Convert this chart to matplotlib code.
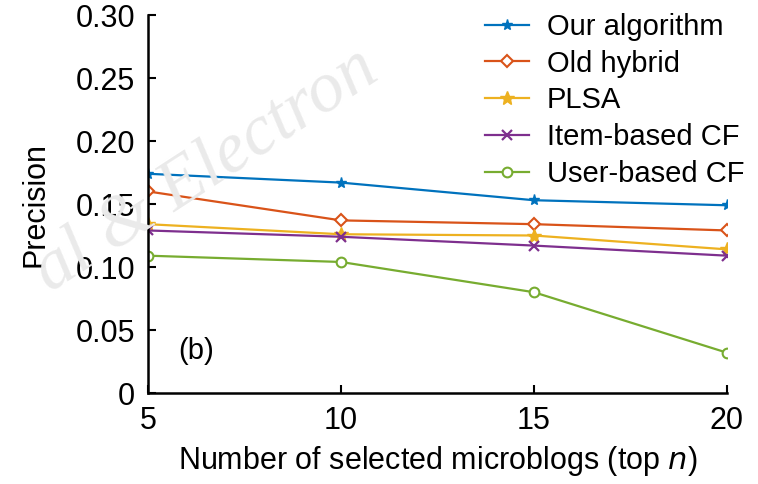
import matplotlib.pyplot as plt

plt.rcParams['font.family'] = ['Liberation Sans', 'DejaVu Sans']

top_n = [5, 10, 15, 20]
ours = [0.174, 0.167, 0.153, 0.149]
old_hybrid = [0.160, 0.137, 0.134, 0.129]
plsa = [0.134, 0.126, 0.125, 0.114]
item_cf = [0.129, 0.124, 0.117, 0.109]
user_cf = [0.109, 0.104, 0.080, 0.032]
yticks = [0, 0.05, 0.10, 0.15, 0.20, 0.25, 0.30]
ylabels = ['0', '0.05', '0.10', '0.15', '0.20', '0.25', '0.30']

fig = plt.figure(figsize=(7.58, 4.84), dpi=100)
ax = fig.add_axes([0.195, 0.188, 0.764, 0.781])

# faint watermark
fig.text(0.03, 0.40, 'al & Electron', fontsize=52, family='Liberation Serif',
         style='italic', color='#eaeaea', rotation=33, zorder=0)

ax.plot(top_n, ours, color='#0072BD', marker='*', ms=8, lw=1.6, label='Our algorithm')
ax.plot(top_n, old_hybrid, color='#D95319', marker='D', ms=6, mfc='white', mew=1.5, lw=1.6, label='Old hybrid')
ax.plot(top_n, plsa, color='#EDB120', marker='*', ms=10, lw=1.6, label='PLSA')
ax.plot(top_n, item_cf, color='#7E2F8E', marker='x', ms=7, mew=1.6, lw=1.6, label='Item-based CF')
ax.plot(top_n, user_cf, color='#77AC30', marker='o', ms=7, mfc='white', mew=1.5, lw=1.6, label='User-based CF')

ax.set_xlim(5, 20)
ax.set_ylim(0, 0.30)
ax.set_xticks(top_n)
ax.set_yticks(yticks)
ax.set_yticklabels(ylabels)
ax.tick_params(direction='in', labelsize=22, width=1.5, length=6, colors='black', pad=9)
for s in ['top', 'right']:
    ax.spines[s].set_visible(False)
for s in ['left', 'bottom']:
    ax.spines[s].set_linewidth(1.8)
ax.patch.set_alpha(0)

ax.set_xlabel('Number of selected microblogs (top $\\it{n}$)', fontsize=22, labelpad=6)
ax.set_ylabel('Precision', fontsize=22, labelpad=18)
ax.text(5.8, 0.033, '(b)', fontsize=21, va='center')

ax.legend(loc='upper right', bbox_to_anchor=(1.075, 1.075), frameon=False, fontsize=21,
          handlelength=1.5, labelspacing=0.3, handletextpad=0.6)

fig.savefig('out.png', dpi=100)
